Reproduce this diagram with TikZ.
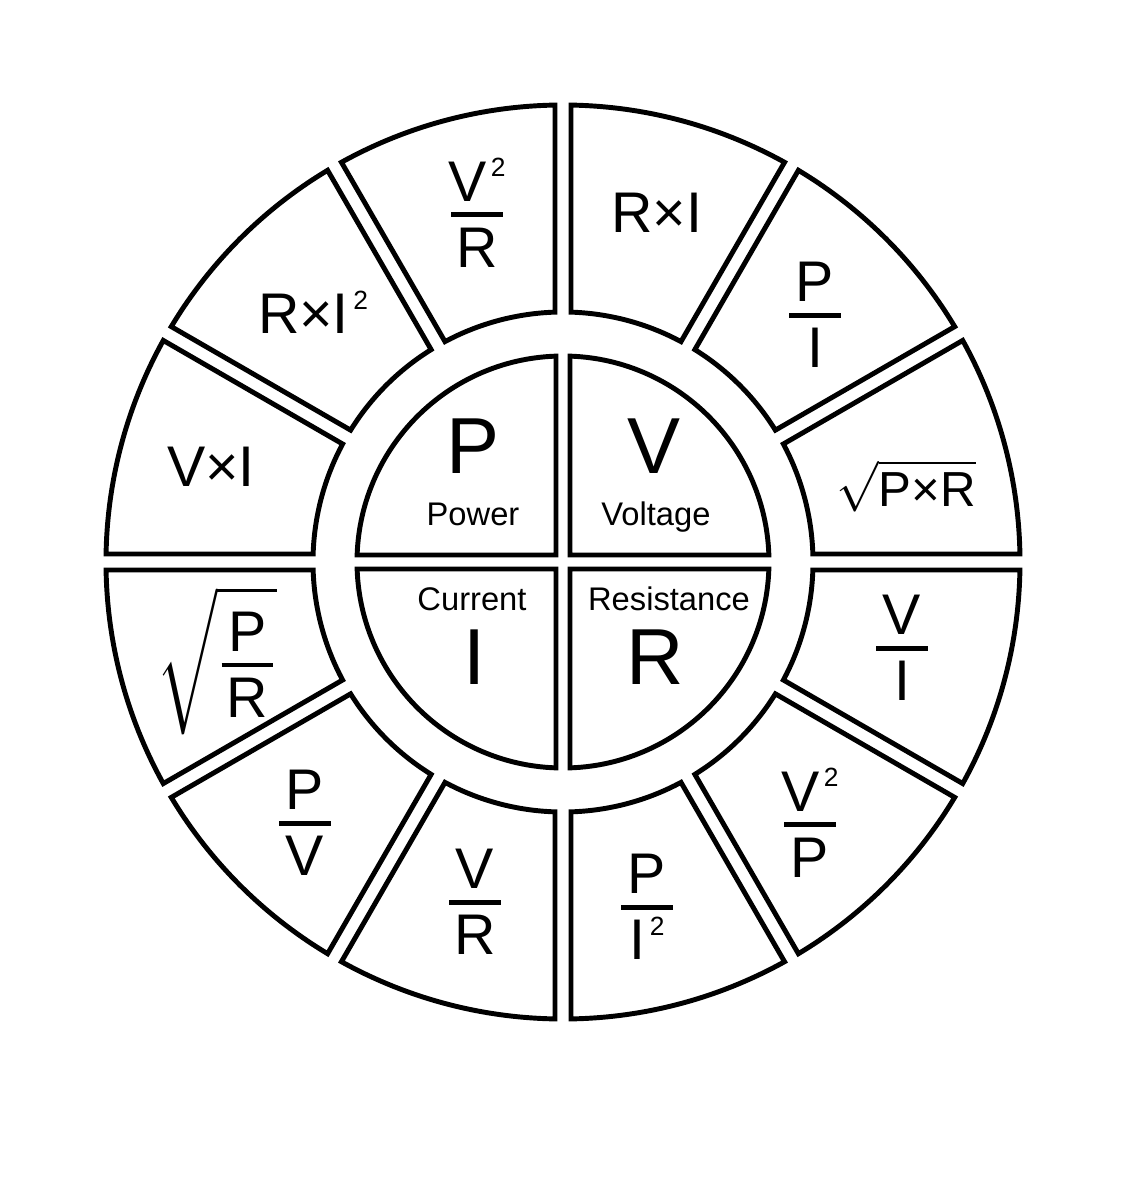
\documentclass[tikz,border=0pt]{standalone}
\usepackage{amsmath}
\usepackage{fontspec}
\setmainfont{Liberation Sans}

\newcommand{\two}{\raisebox{0.42em}{\fontsize{7.5}{8}\selectfont\,2}}
\newcommand{\fr}[2]{$\genfrac{}{}{1.3pt}{1}{\makebox[0.9em]{\rule[-0.12em]{0pt}{0.12em}#1}}{\makebox[0.9em]{\rule{0pt}{0.8em}#2}}$}

\begin{document}
\begin{tikzpicture}[
  x=0.01cm, y=0.01cm,
  seg/.style={draw, line width=1.4pt},
  big/.style={anchor=base, font=\fontsize{22.6}{24}\selectfont},
  word/.style={anchor=base, font=\fontsize{9.3}{11}\selectfont},
  frm/.style={font=\fontsize{16.3}{18}\selectfont},
  small/.style={font=\fontsize{14}{16}\selectfont}
]
\useasboundingbox (-563,-638) rectangle (562,562);
% outer ring, 12 pieces
\foreach \a in {0,30,...,330}{
  \draw[seg] ({\a+asin(8/250)}:250) -- ({\a+asin(8/457)}:457)
    arc[start angle={\a+asin(8/457)}, end angle={\a+30-asin(8/457)}, radius=457]
    -- ({\a+30-asin(8/250)}:250)
    arc[start angle={\a+30-asin(8/250)}, end angle={\a+asin(8/250)}, radius=250] -- cycle;
}
% inner quarters
\foreach \a in {0,90,180,270}{
  \draw[seg] ({\a+45}:9.9) -- ({\a+90-asin(7/206)}:206)
    arc[start angle={\a+90-asin(7/206)}, end angle={\a+asin(7/206)}, radius=206] -- cycle;
}
\node[big] (nP) at (-90,89) {P};
\node[big] (nV) at (91,89) {V};
\node[big] (nI) at (-88,-122) {I};
\node[big] (nR) at (92,-122) {R};
\node[word] (wP) at (-90,37) {Power};
\node[word] (wV) at (93,37) {Voltage};
\node[word] (wI) at (-91,-48) {Current};
\node[word] (wR) at (106,-48) {Resistance};
% formulas
\node[frm] (f75) at (94,349) {R×I};
\node[frm] (f105) at (-86,349) {\fr{V\two}{R}};
\node[frm] (f135) at (-250,250) {R×I\two};
\node[frm] (f165) at (-352,95) {V×I};
\node[frm] (f195) at (-346,-99) {$\sqrt{\genfrac{}{}{1.3pt}{1}{\makebox[0.9em]{\rule[-0.12em]{0pt}{0.12em}P}}{\makebox[0.9em]{\rule{0pt}{0.8em}R}}}$};
\node[frm] (f225) at (-258,-261) {\fr{P}{V}};
\node[frm] (f255) at (-88,-340) {\fr{V}{R}};
\node[frm] (f285) at (84,-345) {\fr{P}{I\two}};
\node[frm] (f315) at (247,-261) {\fr{V\two}{P}};
\node[frm] (f345) at (339,-86) {\fr{V}{I}};
\node[small] (f15) at (343,76) {$\sqrt{\mbox{P×R}}$};
\node[frm] (f45) at (252,247) {\fr{P}{I}};
\end{tikzpicture}
\end{document}
